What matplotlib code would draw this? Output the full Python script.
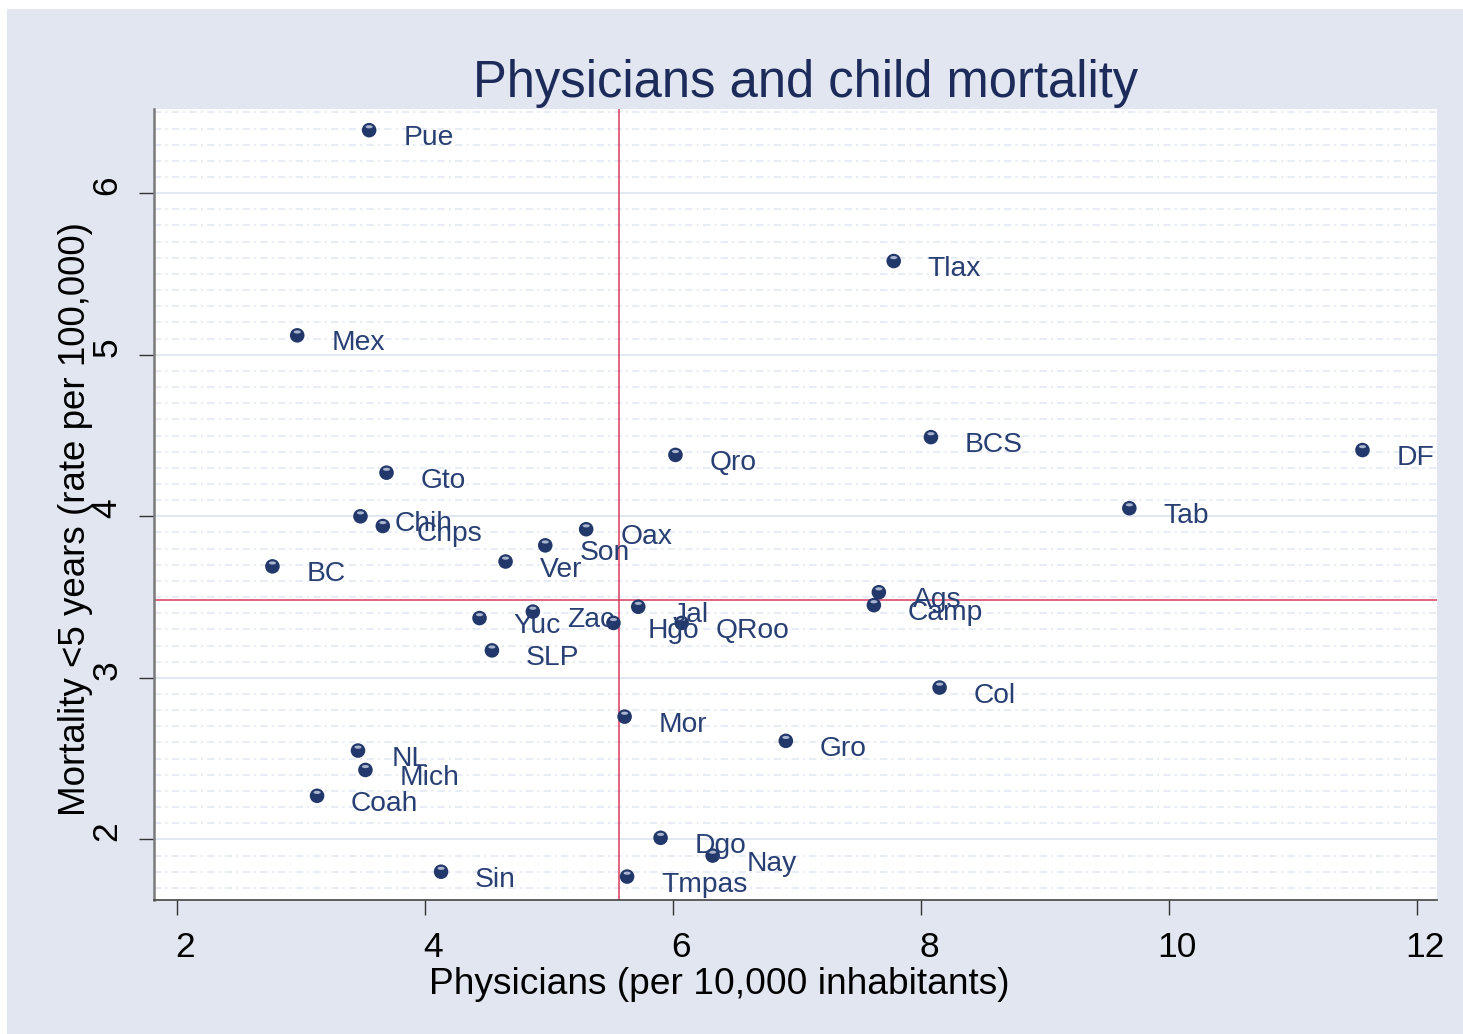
import matplotlib
matplotlib.use("Agg")
import matplotlib.pyplot as plt
from matplotlib.patches import Rectangle
from matplotlib.path import Path
from matplotlib.transforms import Affine2D, ScaledTranslation

# states: physicians per 10,000 inhabitants vs. mortality <5 years
states = ["Pue", "Tlax", "Mex", "BCS", "DF", "Qro", "Gto", "Tab", "Chih", "Chps",
          "Oax", "Son", "Ver", "BC", "Ags", "Camp", "Jal", "Zac", "Yuc", "Hgo",
          "QRoo", "SLP", "Col", "Mor", "Gro", "NL", "Mich", "Coah", "Dgo", "Nay",
          "Sin", "Tmpas"]
physicians = [3.55, 7.78, 2.97, 8.08, 11.56, 6.02, 3.69, 9.68, 3.48, 3.66,
              5.30, 4.97, 4.65, 2.77, 7.66, 7.62, 5.72, 4.87, 4.44, 5.52,
              6.07, 4.54, 8.15, 5.61, 6.91, 3.46, 3.52, 3.13, 5.90, 6.32,
              4.13, 5.63]
mortality = [6.39, 5.58, 5.12, 4.49, 4.41, 4.38, 4.27, 4.05, 4.00, 3.94,
             3.92, 3.82, 3.72, 3.69, 3.53, 3.45, 3.44, 3.41, 3.37, 3.34,
             3.34, 3.17, 2.94, 2.76, 2.61, 2.55, 2.43, 2.27, 2.01, 1.90,
             1.80, 1.77]
mean_x = 5.565
mean_y = 3.479

W, H, DPI = 1463, 1034, 100
bg = "#e1e6f0"
navy = "#22386a"
txtblue = "#283f73"

fig = plt.figure(figsize=(W / DPI, H / DPI), dpi=DPI, facecolor="white")
fig.patches.append(Rectangle((7 / W, 0), 1, 1 - 9 / H, transform=fig.transFigure,
                             facecolor=bg, edgecolor="none", zorder=-10))

ax = fig.add_axes([154 / W, 1 - 900 / H, (1437 - 154) / W, (900 - 109) / H])
ax.set_facecolor("white")
ax.set_xlim(1.815, 12.161)
ax.set_ylim(1.625, 6.521)

# grid: solid majors, dash-dot minors every 0.1
for y in [2, 3, 4, 5, 6]:
    ax.axhline(y, color="#dde4ef", lw=1.2, zorder=0)
for k in range(17, 66):
    y = k / 10
    if k % 10 != 0:
        ax.axhline(y, color="#e8ecf4", lw=1.5, ls=(0, (3.5, 2, 1, 2)), zorder=0)

ax.axvline(mean_x, color="#d93a5e", lw=1.1, zorder=1)
ax.axhline(mean_y, color="#d93a5e", lw=1.1, zorder=1)

ax.scatter(physicians, mortality, s=110, color=navy, edgecolors="none", zorder=3)
# small highlight to mimic the shaded sphere markers
hl = Path(Affine2D().scale(1, 0.45).transform(Path.unit_circle().vertices),
          Path.unit_circle().codes)
ax.scatter(physicians, mortality, s=26, marker=hl, color="#a9b4cf", edgecolors="none",
           zorder=4, transform=ax.transData + ScaledTranslation(0, 3.4 / DPI, fig.dpi_scale_trans))

for name, x, y in zip(states, physicians, mortality):
    ax.annotate(name, (x, y), xytext=(24.5, -10.8), textcoords="offset points",
                ha="left", va="baseline", fontsize=20.3, color=txtblue,
                family="Liberation Sans", zorder=5)

for s in ["top", "right"]:
    ax.spines[s].set_visible(False)
ax.spines["left"].set_color("#7a7a7a")
ax.spines["left"].set_linewidth(1.8)
ax.spines["bottom"].set_color("#444444")
ax.spines["bottom"].set_linewidth(1.2)

ax.set_xticks([2, 4, 6, 8, 10, 12])
ax.set_yticks([2, 3, 4, 5, 6])
ax.tick_params(axis="both", direction="out", length=11, width=1, color="#333333",
               labelsize=25.5, labelcolor="black", pad=11)
for lab in ax.get_xticklabels():
    lab.set_family("Liberation Sans")
    lab.set_transform(lab.get_transform() + ScaledTranslation(8 / DPI, 0, fig.dpi_scale_trans))
for lab in ax.get_yticklabels():
    lab.set_family("Liberation Sans")
    lab.set_rotation(90)
    lab.set_va("center")
    lab.set_transform(lab.get_transform() + ScaledTranslation(0, 8 / DPI, fig.dpi_scale_trans))

fig.text(806 / W, 1 - 83 / H, "Physicians and child mortality", ha="center", va="center",
         fontsize=36.5, color="#1c2b5a", family="Liberation Sans")
fig.text(719 / W, 1 - 984 / H, "Physicians (per 10,000 inhabitants)", ha="center",
         va="center", fontsize=26.7, color="black", family="Liberation Sans")
fig.text(76 / W, 1 - 519 / H, "Mortality <5 years (rate per 100,000)", ha="center",
         va="center", rotation=90, fontsize=26.5, color="black", family="Liberation Sans")

fig.savefig("out.png", dpi=DPI, facecolor=fig.get_facecolor())
